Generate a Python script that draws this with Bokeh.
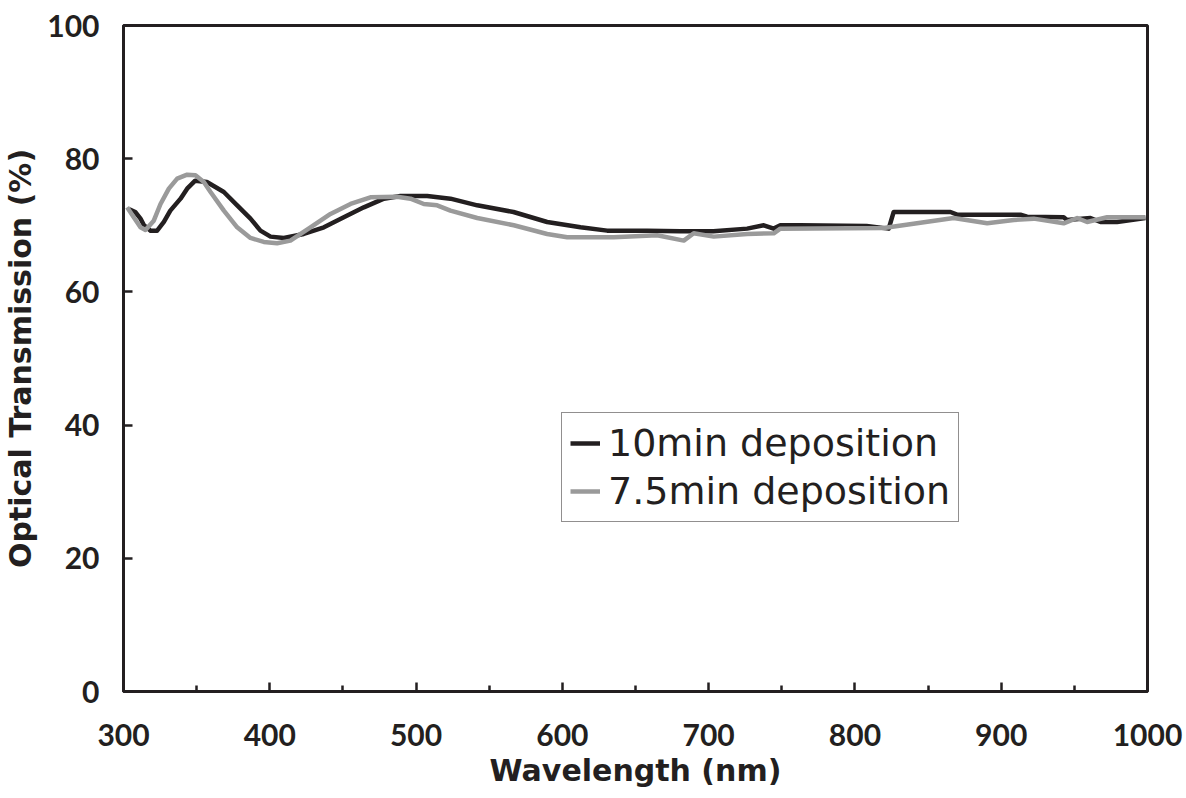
from bokeh.plotting import figure
from bokeh.models import Legend, LegendItem, Range1d, FixedTicker
from bokeh.embed import file_html
from bokeh.resources import INLINE

# 10 min deposition (black)
wl_10 = [304, 308, 311.6, 314, 318.5, 323, 327.6, 332, 339, 343.5, 349, 357, 368.6, 377.7,
         386.8, 393.6, 400.5, 409.6, 423.2, 437, 450.6, 464.3, 478, 489.3, 507.6, 523.5,
         541.8, 566.6, 589.6, 612.4, 630.6, 658, 680.7, 703.3, 726.3, 737.7, 744.5, 749,
         762.7, 808, 823.1, 826.5, 865.3, 869.8, 913.1, 917.7, 942.7, 944.9, 961, 967.8,
         979.2, 998.6]
tr_10 = [72.4, 72.0, 71.0, 70.0, 69.2, 69.2, 70.5, 72.2, 74.0, 75.5, 76.7, 76.5, 75.0, 73.0,
         71.0, 69.2, 68.3, 68.1, 68.7, 69.7, 71.2, 72.7, 74.0, 74.4, 74.4, 74.0,
         73.0, 72.0, 70.5, 69.7, 69.2, 69.2, 69.1, 69.1, 69.5, 70.0, 69.5, 70.0,
         70.0, 69.9, 69.5, 72.0, 72.0, 71.6, 71.6, 71.3, 71.2, 70.8, 71.1, 70.5,
         70.5, 71.1]

# 7.5 min deposition (grey)
wl_75 = [302.5, 307, 311.6, 315, 320.7, 325.3, 331, 336.7, 343.5, 349.2, 354.9, 359.5, 368.6,
         377.7, 386.8, 395.9, 405, 414.1, 427.8, 441.5, 455.2, 468.8, 487, 496.2, 505.3,
         514.4, 523.5, 541.8, 566.8, 589.6, 603.3, 635.1, 664.8, 683, 689.8, 703.5, 726.3,
         744.5, 749, 819.7, 867.5, 890.4, 908.6, 922.2, 942.7, 951.9, 958.7, 972.4, 998.6]
tr_75 = [72.7, 71.2, 69.7, 69.3, 70.7, 73.2, 75.5, 77.0, 77.6, 77.5, 76.5, 75.0, 72.2,
         69.7, 68.1, 67.5, 67.3, 67.7, 69.7, 71.7, 73.2, 74.2, 74.3, 74.0, 73.2,
         73.0, 72.2, 71.1, 70.0, 68.7, 68.2, 68.2, 68.5, 67.7, 68.8, 68.3, 68.7,
         68.8, 69.5, 69.6, 71.1, 70.3, 70.8, 71.0, 70.3, 71.1, 70.5, 71.2, 71.2]

x_ticks = [300, 400, 500, 600, 700, 800, 900, 1000]
y_ticks = [0, 20, 40, 60, 80, 100]

TICK_FONT = "Lato"
TITLE_FONT = "DejaVu Sans"
INK = "#231f20"

p = figure(width=1186, height=798, output_backend="svg", toolbar_location=None,
           x_range=Range1d(300, 1000), y_range=Range1d(0, 100),
           min_border_left=123, min_border_right=39, min_border_top=25, min_border_bottom=107)
p.background_fill_color = "white"
p.border_fill_color = "white"
p.outline_line_color = INK
p.outline_line_width = 3
p.grid.visible = False

r1 = p.line(wl_10, tr_10, line_color=INK, line_width=4.5, line_join="round")
r2 = p.line(wl_75, tr_75, line_color="#9a9a9a", line_width=4.5, line_join="round")

for ax in (p.xaxis[0], p.yaxis[0]):
    ax.axis_line_color = INK
    ax.axis_line_width = 3
    ax.major_tick_line_color = INK
    ax.major_tick_line_width = 2.5
    ax.major_tick_in = 9
    ax.major_tick_out = 0
    ax.major_label_text_font = TICK_FONT
    ax.major_label_text_font_style = "bold"
    ax.major_label_text_font_size = "30px"
    ax.major_label_text_color = INK
    ax.axis_label_text_font = TITLE_FONT
    ax.axis_label_text_font_style = "bold"
    ax.axis_label_text_font_size = "30px"
    ax.axis_label_text_color = INK

p.xaxis[0].ticker = FixedTicker(ticks=x_ticks, minor_ticks=[350, 450, 550, 650, 750, 850, 950])
p.xaxis[0].minor_tick_line_color = INK
p.xaxis[0].minor_tick_line_width = 2.5
p.xaxis[0].minor_tick_in = 6
p.xaxis[0].minor_tick_out = 0
p.xaxis[0].major_label_standoff = 32
p.xaxis[0].axis_label = "Wavelength (nm)"
p.xaxis[0].axis_label_standoff = 4

p.yaxis[0].ticker = FixedTicker(ticks=y_ticks)
p.yaxis[0].minor_tick_line_color = None
p.yaxis[0].major_label_standoff = 24
p.yaxis[0].axis_label = "Optical Transmission (%)"
p.yaxis[0].axis_label_standoff = 6

legend = Legend(items=[LegendItem(label="10min deposition", renderers=[r1]),
                       LegendItem(label="7.5min deposition", renderers=[r2])],
                location=(438, 169))
legend.border_line_color = INK
legend.border_line_width = 1.5
legend.background_fill_alpha = 1
legend.label_text_font = TITLE_FONT
legend.label_text_font_size = "38px"
legend.label_text_color = INK
legend.glyph_width = 30
legend.label_standoff = 8
legend.padding = 8
legend.spacing = 4
legend.margin = 0
p.add_layout(legend, "center")

open("out.html", "w").write(file_html(p, INLINE))
